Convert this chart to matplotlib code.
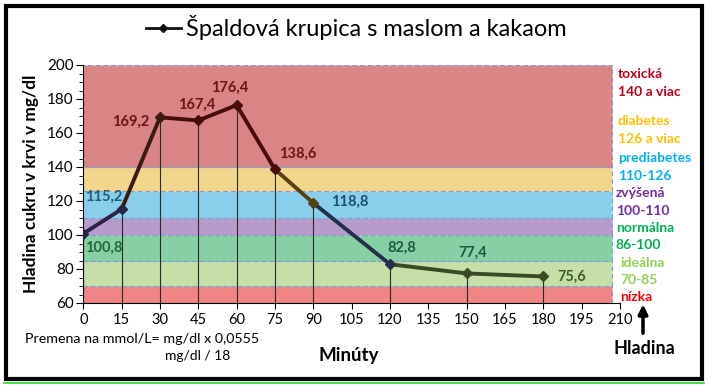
import matplotlib.pyplot as plt
from matplotlib.collections import LineCollection
from matplotlib.lines import Line2D
from matplotlib.patches import Rectangle

plt.rcParams['font.family'] = ['Lato', 'DejaVu Sans']

minutes = [0, 15, 30, 45, 60, 75, 90, 120, 150, 180]
glucose = [100.8, 115.2, 169.2, 167.4, 176.4, 138.6, 118.8, 82.8, 77.4, 75.6]
value_labels = ['100,8', '115,2', '169,2', '167,4', '176,4', '138,6', '118,8', '82,8', '77,4', '75,6']

# bands: (low, high, colour)
band_lows = [60, 70, 85, 100, 110, 126, 140]
band_highs = [70, 85, 100, 110, 126, 140, 200]
band_colors = ['#F08585', '#C6DFA9', '#87D0A6', '#B79BCA', '#88CFEB', '#F1D68B', '#D98586']

zone_texts = ['toxická', '140 a viac', 'diabetes', '126 a viac', 'prediabetes', '110-126',
              'zvýšená', '100-110', 'normálna', '86-100', 'ideálna', '70-85', 'nízka']
zone_colors = ['#C0001A', '#C0001A', '#FFC000', '#FFC000', '#00B0F0', '#00B0F0',
               '#7030A0', '#7030A0', '#00B050', '#00B050', '#92D050', '#92D050', '#FF0000']
zone_y = [74, 92, 121, 139, 158, 176, 193, 211, 228, 245, 263, 280, 297]
zone_x = [618, 618, 618, 618, 618, 618, 616, 616, 616, 616, 620, 620, 620]

seg_colors = ['#2B2347', '#3C1A0E', '#4A0B0B', '#4A0B0B', '#4A0B0B', '#55420F',
              '#24304A', '#3A4A25', '#3A4A25']
label_colors = ['#1E6B3A', '#1F5C7A', '#6B1515', '#6B1515', '#6B1515', '#6B1515',
                '#1F4F6F', '#1F5A3A', '#1E5A3C', '#3D5A2A']
label_offsets = [(20, -14), (-18, 12), (-29, -4), (-2, 16), (-7, 17), (23, 16),
                 (36, 1), (12, 16), (6, 21), (28, 0)]

W, H = 711, 387
fig = plt.figure(figsize=(7.11, 3.87), dpi=100)
ax = fig.add_axes([83.3 / W, 1 - 303 / H, (620 - 83.3) / W, (303 - 65) / H])

band_end = 206.7
for lo, hi, c in zip(band_lows, band_highs, band_colors):
    ax.add_patch(Rectangle((0, lo), band_end, hi - lo, facecolor=c,
                           edgecolor='#7F9FD0', linestyle=(0, (4, 3)), lw=0.8, zorder=1))

ax.vlines(minutes, 60, glucose, color='#2A2A2A', lw=0.8, zorder=2)

pts = list(zip(minutes, glucose))
segs = [[pts[i], pts[i + 1]] for i in range(len(pts) - 1)]
ax.add_collection(LineCollection(segs, colors=seg_colors, linewidths=2.8,
                                 capstyle='round', zorder=3))
for x, y, c in zip(minutes, glucose, ['#2B2347'] + seg_colors):
    ax.plot(x, y, marker='D', ms=5.5, color=c, zorder=4)

for x, y, lab, c, off in zip(minutes, glucose, value_labels, label_colors, label_offsets):
    ax.annotate(lab, (x, y), xytext=off, textcoords='offset pixels', ha='center',
                va='center', fontsize=10.5, fontweight='bold', color=c, zorder=5)

ax.set_xlim(0, 210)
ax.set_ylim(60, 200)
ax.set_xticks(range(0, 211, 15))
ax.set_yticks(range(60, 201, 20))
ax.set_yticks(range(60, 201, 5), minor=True)
ax.tick_params(axis='x', labelsize=10.5, length=4, pad=3)
ax.tick_params(axis='y', which='major', labelsize=11, length=5, pad=2)
ax.tick_params(axis='y', which='minor', length=3)
ax.spines['top'].set_visible(False)
ax.spines['right'].set_visible(False)
ax.set_ylabel('Hladina cukru v krvi v mg/dl', fontsize=12.5, fontweight='bold', labelpad=6)

for t, c, x, y in zip(zone_texts, zone_colors, zone_x, zone_y):
    fig.text(x / W, 1 - y / H, t, color=c, fontsize=10, fontweight='bold', va='center')

handle = Line2D([], [], color='#111111', lw=2, marker='D', ms=4)
fig.legend([handle], ['Špaldová krupica s maslom a kakaom'], loc='center',
           bbox_to_anchor=(356 / W, 1 - 28 / H), frameon=False, fontsize=17,
           handlelength=1.5, handletextpad=0.2)

fig.text(349 / W, 1 - 355 / H, 'Minúty', ha='center', va='center', fontsize=13.5, fontweight='bold')
fig.text(25 / W, 1 - 339 / H, 'Premena na mmol/L= mg/dl x 0,0555', va='center', fontsize=10.3)
fig.text(165 / W, 1 - 356 / H, 'mg/dl / 18', va='center', fontsize=10)
fig.text(644 / W, 1 - 348 / H, 'Hladina', ha='center', va='center', fontsize=13, fontweight='bold')
fig.add_artist(plt.annotate('', xy=(643 / W, 1 - 302 / H), xytext=(643 / W, 1 - 336 / H),
                            xycoords='figure fraction',
                            arrowprops=dict(arrowstyle='-|>', color='black', lw=2.2,
                                            mutation_scale=14)))

fig.add_artist(Rectangle((6 / W, 1 - 379 / H), 696 / W, 373 / H, transform=fig.transFigure,
                         fill=False, edgecolor='black', lw=3))
fig.add_artist(Line2D([4 / W, 704 / W], [1 - 383 / H, 1 - 383 / H], transform=fig.transFigure,
                      color='#22DD22', lw=1.2))

fig.savefig('out.png', dpi=100)
